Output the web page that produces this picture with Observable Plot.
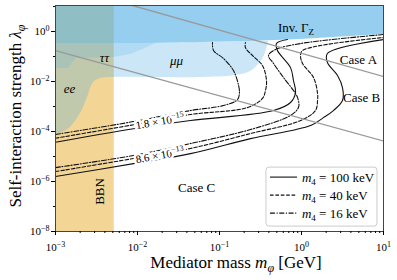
<!DOCTYPE html>
<html><head><meta charset="utf-8">
<script src="https://cdn.jsdelivr.net/npm/d3@7"></script>
<script src="https://cdn.jsdelivr.net/npm/@observablehq/plot@0.6"></script>
<style>
body{margin:0;background:#fff;}
#chart svg{display:block;}
</style></head><body><div id="chart"></div>
<script>
// ---------- data (mediator mass m in GeV, self-interaction strength lambda) ----------
const bbnMass = [1e-3, 5.2e-3];
const lamRange = [1e-8, 11];

const invMass = [1e-3, 0.0144, 0.0586, 0.239, 0.973, 10];
const invLow  = [0.331, 0.331, 0.363, 0.398, 0.479, 0.759];

const leptonMass = [1e-3, 1.22e-3, 1.52e-3, 2.02e-3, 2.46e-3, 2.91e-3, 3.54e-3, 5.09e-3, 0.0144, 0.0586, 0.157, 0.239, 0.299, 0.354, 0.396];
const leptonLow  = [6.9e-5, 9.1e-5, 1.45e-4, 5.2e-4, 2.3e-3, 9.1e-3, 0.0132, 0.0145, 0.0145, 0.0145, 0.0174, 0.0251, 0.0479, 0.11, 0.40];
const leptonHigh = [0.331, 0.331, 0.331, 0.331, 0.331, 0.331, 0.331, 0.331, 0.331, 0.363, 0.385, 0.398, 0.40, 0.40, 0.40];

const tauMass = [1e-3, 1.44e-3, 1.61e-3, 1.80e-3, 5.09e-3, 8.2e-3, 0.0125, 0.0166];
const tauLow  = [0.0331, 0.0331, 0.0575, 0.083, 0.091, 0.12, 0.209, 0.331];
const tauHigh = [0.331, 0.331, 0.331, 0.331, 0.331, 0.331, 0.331, 0.331];

const caseAMass = [8.7e-3, 10];
const caseALam  = [11, 0.0158];
const caseBMass = [1e-3, 10];
const caseBLam  = [0.174, 4.17e-5];

// contour 1.8e-15
const up16Mass = [1e-3, 8.93e-3, 0.0443, 0.112, 0.166, 0.175, 0.171, 0.148, 0.112, 0.0845, 0.0822];
const up16Lam  = [7.6e-5, 2.5e-4, 6.9e-4, 1.1e-3, 1.9e-3, 3.6e-3, 6.9e-3, 0.0275, 0.083, 0.174, 0.363];
const up40Mass = [1e-3, 8.93e-3, 0.0443, 0.219, 0.334, 0.364, 0.374, 0.334, 0.252, 0.207, 0.207];
const up40Lam  = [5.4e-5, 1.86e-4, 4.8e-4, 9.1e-4, 2.1e-3, 4.4e-3, 0.011, 0.0437, 0.11, 0.229, 0.363];
const up100Mass = [1e-3, 8.93e-3, 0.0443, 0.456, 0.735, 0.845, 0.798, 0.735, 0.509, 0.495, 0.675];
const up100Lam  = [3.7e-5, 1.29e-4, 2.75e-4, 6.9e-4, 1.45e-3, 3.6e-3, 0.011, 0.036, 0.174, 0.331, 0.479];
// contour 8.6e-13
const lo16Mass = [1e-3, 8.93e-3, 0.0443, 0.239, 0.735, 0.918, 0.918, 0.845, 0.603, 0.456, 0.396, 0.482, 0.973, 10];
const lo16Lam  = [3.6e-6, 1.1e-5, 3.3e-5, 1.2e-4, 4.4e-4, 9.1e-4, 1.74e-3, 3.3e-3, 0.0145, 0.0525, 0.11, 0.19, 0.331, 0.76];
const lo40Mass = [1e-3, 8.93e-3, 0.0443, 0.239, 0.973, 1.48, 1.57, 1.57, 1.4, 1.03, 0.973, 1.03, 10];
const lo40Lam  = [2.5e-6, 8.3e-6, 2.1e-5, 8.3e-5, 2.75e-4, 6.9e-4, 1.74e-3, 3.3e-3, 0.0145, 0.0525, 0.11, 0.174, 0.575];
const lo100Mass = [1e-3, 8.93e-3, 0.0443, 0.239, 1.29, 1.85, 2.45, 3.16, 3.16, 2.75, 2.07, 2.07, 10];
const lo100Lam  = [1.58e-6, 5.2e-6, 1.3e-5, 5.2e-5, 1.74e-4, 3.6e-4, 6.9e-4, 1.74e-3, 5.75e-3, 0.0174, 0.0575, 0.132, 0.479];

const legendLabels = ["100", "40", "16"];
const contourLabels = [{exp: "15", mant: "1.8", m: 0.019, lam: 2.5e-4}, {exp: "13", mant: "8.6", m: 0.019, lam: 1.1e-5}];
const plainNotes = [
  {label: "Case A", m: 4.95, lam: 0.0759, italic: false},
  {label: "Case B", m: 5.4, lam: 2.29e-3, italic: false},
  {label: "Case C", m: 0.0525, lam: 5.75e-7, italic: false},
  {label: "ττ", m: 3.96e-3, lam: 0.0912, italic: true},
  {label: "μμ", m: 0.0299, lam: 0.0692, italic: true},
  {label: "ee", m: 1.48e-3, lam: 5.25e-3, italic: true}
];
const bbnNote = [{label: "BBN", m: 3.44e-3, lam: 3.98e-7}];
const invNote = {m: 0.869, lam: 1.445};
const legendAnchor = {m: 0.374, lam: 3.6e-6};

const xMajor = [1e-3, 1e-2, 1e-1, 1, 10];
const yMajor = [1e-8, 1e-6, 1e-4, 1e-2, 1];
const yMinor = [1e-7, 1e-5, 1e-3, 1e-1, 10];
const xMinor = [];
for (let k = -3; k <= 0; k++) for (let j = 2; j <= 9; j++) xMinor.push(j * Math.pow(10, k));

// ---------- helpers ----------
const idx = a => d3.range(a.length);
const BLUE = "#4eade4";
const SOLID = null, DASHED = "3.6,1.8", DASHDOT = "5,1.6,1.1,1.6";
function curve(ms, ls, dash) {
  return Plot.line(idx(ms), {x: i => ms[i], y: i => ls[i], stroke: "#111", strokeWidth: 1.1,
    strokeDasharray: dash, curve: "catmull-rom", clip: true});
}
const expFmt = d => String(Math.round(Math.log10(d)));

const plot = Plot.plot({
  width: 397, height: 280,
  marginLeft: 55, marginRight: 14, marginTop: 5, marginBottom: 49,
  style: {fontFamily: "'Liberation Serif', 'DejaVu Serif', serif", fontSize: "11px", color: "#000", background: "#fff"},
  x: {type: "log", domain: [1e-3, 10]},
  y: {type: "log", domain: lamRange},
  marks: [
    Plot.rect([0], {x1: () => bbnMass[0], x2: () => bbnMass[1], y1: () => lamRange[0], y2: () => lamRange[1], fill: "#f3d696"}),
    Plot.areaY(idx(leptonMass), {x: i => leptonMass[i], y1: i => leptonLow[i], y2: i => leptonHigh[i], fill: BLUE, fillOpacity: 0.3, curve: "catmull-rom"}),
    Plot.areaY(idx(tauMass), {x: i => tauMass[i], y1: i => tauLow[i], y2: i => tauHigh[i], fill: BLUE, fillOpacity: 0.2}),
    Plot.areaY(idx(invMass), {x: i => invMass[i], y1: i => invLow[i], y2: () => lamRange[1], fill: BLUE, fillOpacity: 0.6, clip: true}),
    curve(up16Mass, up16Lam, DASHDOT),
    curve(up40Mass, up40Lam, DASHED),
    curve(up100Mass, up100Lam, SOLID),
    curve(lo16Mass, lo16Lam, DASHDOT),
    curve(lo40Mass, lo40Lam, DASHED),
    curve(lo100Mass, lo100Lam, SOLID),
    Plot.line(idx(caseAMass), {x: i => caseAMass[i], y: i => caseALam[i], stroke: "#999", strokeWidth: 1.3, clip: true}),
    Plot.line(idx(caseBMass), {x: i => caseBMass[i], y: i => caseBLam[i], stroke: "#999", strokeWidth: 1.3, clip: true}),
    Plot.text(plainNotes.filter(d => !d.italic), {x: "m", y: "lam", text: "label", fontSize: 13}),
    Plot.text(plainNotes.filter(d => d.italic), {x: "m", y: "lam", text: "label", fontSize: 13, fontStyle: "italic"}),
    Plot.text(bbnNote, {x: "m", y: "lam", text: "label", fontSize: 13, rotate: -90}),
    Plot.frame({stroke: "#444", strokeWidth: 1}),
    Plot.axisX(xMajor, {tickSize: 4, tickPadding: 8, tickFormat: expFmt, label: null, fontSize: 11}),
    Plot.axisX(xMinor, {tickSize: 2, tickFormat: () => "", label: null}),
    Plot.axisY(yMajor, {tickSize: 4, tickPadding: 2, tickFormat: expFmt, label: null, fontSize: 11}),
    Plot.axisY(yMinor, {tickSize: 2, tickFormat: () => "", label: null})
  ]
});
document.getElementById("chart").appendChild(plot);

// superscript tick labels: 10^n
plot.querySelectorAll('g[aria-label="x-axis tick label"] text, g[aria-label="y-axis tick label"] text').forEach(t => {
  const e = t.textContent;
  if (e === "") return;
  t.textContent = "";
  const ns = "http://www.w3.org/2000/svg";
  const a = document.createElementNS(ns, "tspan"); a.textContent = "10"; t.appendChild(a);
  const b = document.createElementNS(ns, "tspan"); b.textContent = e.replace("-", "\u2212");
  b.setAttribute("dy", "-4.5"); b.setAttribute("font-size", "8"); t.appendChild(b);
});

const svg = d3.select(plot);
const X = v => plot.scale("x").apply(v), Y = v => plot.scale("y").apply(v);
const FONT = "'Liberation Serif', 'DejaVu Serif', serif";

// Inv. Gamma_Z
{
  const t = svg.append("text").attr("x", X(invNote.m)).attr("y", Y(invNote.lam) + 4.5)
    .attr("text-anchor", "middle").attr("font-size", 13).attr("font-family", FONT);
  t.append("tspan").text("Inv. Γ");
  t.append("tspan").attr("dy", 3).attr("font-size", 9).text("Z");
}
// contour labels
contourLabels.forEach(c => {
  const g = svg.append("g").attr("transform", `translate(${X(c.m)},${Y(c.lam)}) rotate(-10)`);
  const t = g.append("text").attr("x", 0).attr("y", 4).attr("text-anchor", "middle")
    .attr("font-size", 11).attr("font-family", FONT)
    .attr("stroke", "white").attr("stroke-width", 5).attr("paint-order", "stroke").attr("stroke-linejoin", "round");
  t.append("tspan").text(c.mant + " × 10");
  t.append("tspan").attr("dy", -4.5).attr("font-size", 8).text("\u2212" + c.exp);
});
// axis labels
{
  const t = svg.append("text").attr("x", 236).attr("y", 268).attr("text-anchor", "middle")
    .attr("font-size", 17).attr("font-family", FONT);
  t.append("tspan").text("Mediator mass ");
  t.append("tspan").attr("font-style", "italic").text("m");
  t.append("tspan").attr("dy", 4).attr("font-size", 12).attr("font-style", "italic").text("φ");
  t.append("tspan").attr("dy", -4).text(" [GeV]");
}
{
  const t = svg.append("text").attr("transform", "translate(21,116) rotate(-90)").attr("text-anchor", "middle")
    .attr("font-size", 17).attr("font-family", FONT);
  t.append("tspan").text("Self-interaction strength ");
  t.append("tspan").attr("font-style", "italic").text("λ");
  t.append("tspan").attr("dy", 4).attr("font-size", 12).attr("font-style", "italic").text("φ");
}
// legend
{
  const x0 = X(legendAnchor.m), y0 = Y(legendAnchor.lam);
  const g = svg.append("g").attr("transform", `translate(${x0},${y0})`);
  g.append("rect").attr("x", 0).attr("y", 0).attr("width", 111).attr("height", 59).attr("rx", 3)
    .attr("fill", "white").attr("fill-opacity", 0.85).attr("stroke", "#cccccc");
  const dashes = [SOLID, DASHED, DASHDOT];
  legendLabels.forEach((lab, i) => {
    const yy = 10 + i * 18;
    g.append("line").attr("x1", 4).attr("x2", 31).attr("y1", yy).attr("y2", yy)
      .attr("stroke", "#111").attr("stroke-width", 1.1).attr("stroke-dasharray", dashes[i]);
    const t = g.append("text").attr("x", 36).attr("y", yy + 4.5).attr("text-anchor", "start")
      .attr("font-size", 13).attr("font-family", FONT);
    t.append("tspan").attr("font-style", "italic").text("m");
    t.append("tspan").attr("dy", 3).attr("font-size", 9).text("4");
    t.append("tspan").attr("dy", -3).text(" = " + lab + " keV");
  });
}
</script></body></html>
